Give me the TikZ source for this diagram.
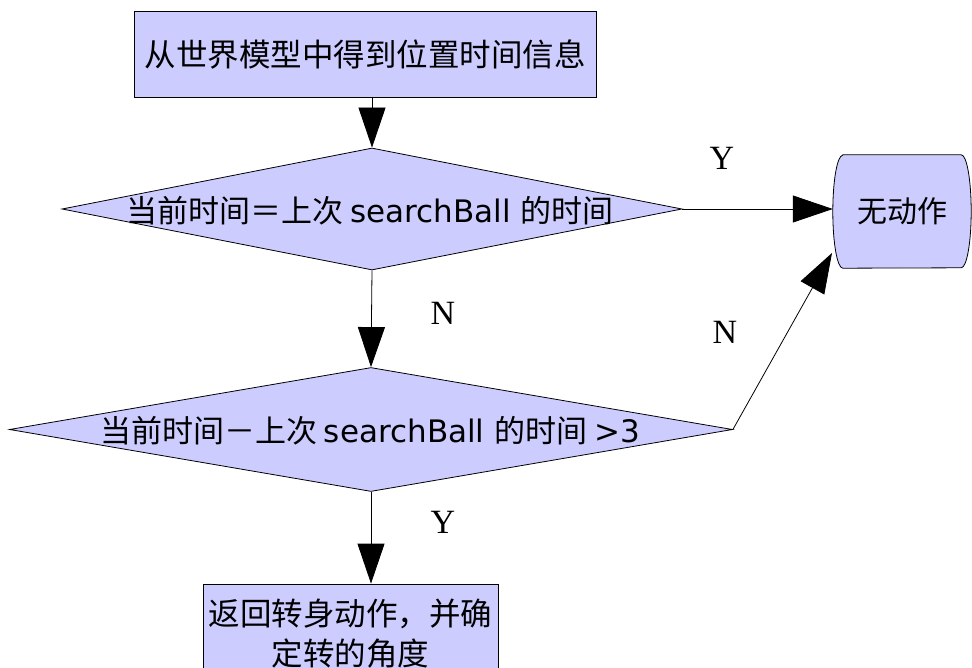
\documentclass[tikz,border=0pt]{standalone}
\usepackage{fontspec}
\setmainfont{Liberation Serif}
\newfontfamily\cjk{Noto Sans CJK SC}
\newfontfamily\dvs{DejaVu Sans}
\usetikzlibrary{shapes.geometric,arrows.meta}
\definecolor{lav}{HTML}{CCCCFF}
\begin{document}
\begin{tikzpicture}[x=1pt,y=1pt,
  box/.style={draw=black,fill=lav,line width=0.8pt,inner sep=0pt},
  dia/.style={diamond,draw=black,fill=lav,line width=0.8pt,inner sep=0pt},
  conn/.style={draw=black,line width=0.8pt,-{Triangle[length=40pt,width=27pt]}},
  lbl/.style={font=\fontsize{34}{40}\selectfont},
  btxt/.style={font=\cjk\fontsize{31.5}{40}\selectfont},
  dtxt/.style={font=\fontsize{31}{36}\selectfont}]
\useasboundingbox (0,0) rectangle (972,-668);
\clip (0,0) rectangle (972,-668);
% top box
\node[box,rectangle,minimum width=462pt,minimum height=86pt,btxt] (top) at (365,-54) {从世界模型中得到位置时间信息};
% diamonds
\node[dia,minimum width=620pt,minimum height=122pt] (d1) at (372,-209) {};
\node[dtxt] (t1) at (370,-211) {\cjk 当前时间＝上次 \dvs searchBall \cjk 的时间};
\node[dia,minimum width=723pt,minimum height=124pt] (d2) at (371,-429.5) {};
\node[dtxt] (t2) at (370,-431) {\cjk 当前时间－上次 \dvs searchBall \cjk 的时间 \dvs >3};
% terminator
\node[minimum width=138pt,minimum height=113pt,inner sep=0pt] (term) at (902,-211.5) {};
\filldraw[draw=black,fill=lav,line width=0.8pt]
  ([xshift=10pt]term.north west) -- ([xshift=-10pt]term.north east)
  arc[start angle=90,end angle=-90,x radius=10pt,y radius=56.5pt]
  -- ([xshift=10pt]term.south west)
  arc[start angle=270,end angle=90,x radius=10pt,y radius=56.5pt] -- cycle;
\node[font=\cjk\fontsize{30}{36}\selectfont] (termtxt) at (term.center) {无动作};
% bottom box
\node[box,rectangle,minimum width=295pt,minimum height=100pt,btxt,align=center] (bot) at (350.5,-634) {返回转身动作，并确\\定转的角度};
% connectors
\coordinate (tin) at (832,-253);
\draw[conn] (d1.north |- top.south) -- (d1.north);
\draw[conn] (d1.east) -- (d1.east -| term.west);
\draw[conn] (d1.south) -- (d2.north);
\draw[conn] (d2.east) -- (tin);
\draw[conn] (d2.south) -- (d2.south |- bot.north);
% labels
\node[lbl] (ly1) at (722,-158) {Y};
\node[lbl] (ln1) at (443,-313) {N};
\node[lbl] (ln2) at (725,-332) {N};
\node[lbl] (ly2) at (443,-522) {Y};
\end{tikzpicture}
\end{document}
